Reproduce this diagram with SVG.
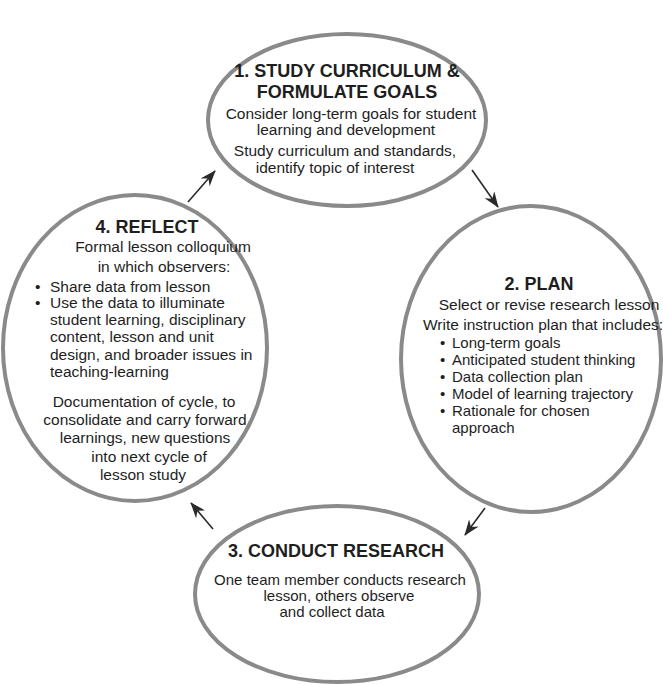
<svg xmlns="http://www.w3.org/2000/svg" width="663" height="684" viewBox="0 0 663 684">
<defs>
<marker id="ah" viewBox="0 0 16 12" refX="15" refY="6" markerWidth="16" markerHeight="12" markerUnits="userSpaceOnUse" orient="auto">
<path d="M0,0 L16,6 L0,12 L5,6 Z" fill="#2a2a2a"/>
</marker>
</defs>
<style>
.ring{fill:none;stroke:#8a8a8a;stroke-width:4}
text{font-family:"Liberation Sans",Arial,sans-serif;fill:#1e1e1e}
.t{font-size:18px;font-weight:bold}
.b{font-size:15.5px}
.s{font-size:15px}
.m{text-anchor:middle}
.c{stroke:#2a2a2a;stroke-width:1.6;fill:none}
</style>
<rect width="663" height="684" fill="#ffffff"/>
<g id="connectors">
<line class="c" x1="188" y1="202" x2="215" y2="171" marker-end="url(#ah)"/>
<line class="c" x1="472" y1="170" x2="498" y2="207" marker-end="url(#ah)"/>
<line class="c" x1="485" y1="508" x2="465" y2="535" marker-end="url(#ah)"/>
<line class="c" x1="213" y1="529" x2="191" y2="503" marker-end="url(#ah)"/>
</g>
<g id="node1">
<ellipse class="ring" cx="347" cy="120" rx="139" ry="86"/>
<text class="t m" x="347" y="77">1. STUDY CURRICULUM &amp;</text>
<text class="t m" x="347" y="98">FORMULATE GOALS</text>
<text class="b m" x="351" y="119">Consider long-term goals for student</text>
<text class="b m" x="346" y="135">learning and development</text>
<text class="b m" x="345" y="156">Study curriculum and standards,</text>
<text class="b m" x="335" y="172.5">identify topic of interest</text>
</g>
<g id="node2">
<ellipse class="ring" cx="531" cy="359" rx="130" ry="153"/>
<text class="t m" x="539" y="290">2. PLAN</text>
<text class="b m" x="549" y="310">Select or revise research lesson</text>
<text class="b" x="423" y="330">Write instruction plan that includes:</text>
<text class="s" x="440" y="348">•</text><text class="s" x="452" y="348">Long-term goals</text>
<text class="s" x="440" y="365">•</text><text class="s" x="452" y="365">Anticipated student thinking</text>
<text class="s" x="440" y="382">•</text><text class="s" x="452" y="382">Data collection plan</text>
<text class="s" x="440" y="399">•</text><text class="s" x="452" y="399">Model of learning trajectory</text>
<text class="s" x="440" y="416">•</text><text class="s" x="452" y="416">Rationale for chosen</text>
<text class="s" x="452" y="433">approach</text>
</g>
<g id="node3">
<ellipse class="ring" cx="337" cy="594" rx="142" ry="88"/>
<text class="t m" x="336" y="557">3. CONDUCT RESEARCH</text>
<text class="s m" x="340" y="585">One team member conducts research</text>
<text class="s m" x="339" y="601">lesson, others observe</text>
<text class="s m" x="332" y="617">and collect data</text>
</g>
<g id="node4">
<ellipse class="ring" cx="135" cy="348" rx="132" ry="153"/>
<text class="t m" x="147" y="233">4. REFLECT</text>
<text class="b m" x="163" y="252">Formal lesson colloquium</text>
<text class="b m" x="164" y="272">in which observers:</text>
<text class="b" x="35" y="292">•</text><text class="b" x="50" y="292">Share data from lesson</text>
<text class="b" x="35" y="308">•</text><text class="b" x="50" y="308">Use the data to illuminate</text>
<text class="b" x="50" y="325">student learning, disciplinary</text>
<text class="b" x="50" y="342">content, lesson and unit</text>
<text class="b" x="50" y="360">design, and broader issues in</text>
<text class="b" x="50" y="377">teaching-learning</text>
<text class="b m" x="144" y="407">Documentation of cycle, to</text>
<text class="b m" x="145" y="425">consolidate and carry forward</text>
<text class="b m" x="145" y="443">learnings, new questions</text>
<text class="b m" x="149" y="462">into next cycle of</text>
<text class="b m" x="143" y="480">lesson study</text>
</g>
</svg>
